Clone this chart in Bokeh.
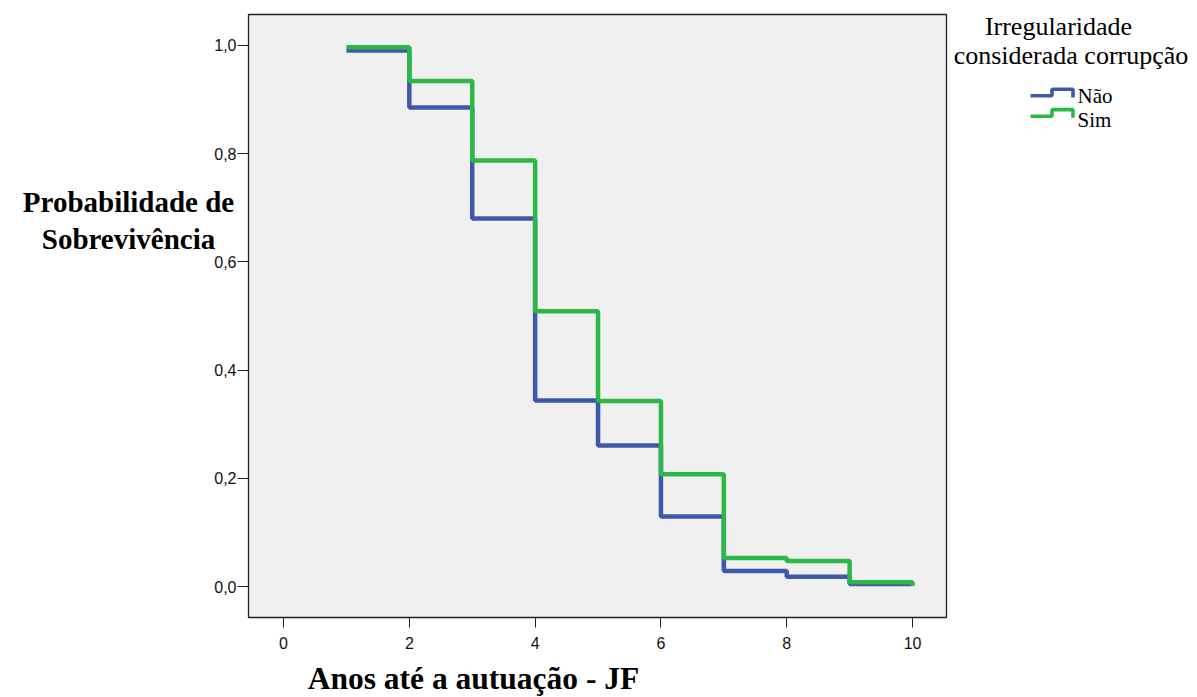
from bokeh.plotting import figure
from bokeh.models import Range1d, FixedTicker, Label, CustomJSTickFormatter
from bokeh.layouts import row
from bokeh.embed import file_html
from bokeh.resources import INLINE

# ---------------- data ----------------
years = [1, 2, 3, 4, 5, 6, 7, 8, 9, 10]
nao = [0.990, 0.885, 0.680, 0.344, 0.261, 0.130, 0.029, 0.0185, 0.005, 0.003]
sim = [0.996, 0.934, 0.787, 0.509, 0.343, 0.208, 0.053, 0.0475, 0.0083, 0.002]
x_ticks = [0, 2, 4, 6, 8, 10]
y_ticks = [0.0, 0.2, 0.4, 0.6, 0.8, 1.0]
series_names = ["Não", "Sim"]
series_colors = ["#3e58ab", "#2db746"]
legend_title = ["Irregularidade", "considerada corrupção"]
x_title = "Anos até a autuação - JF"
y_title = "Probabilidade de\nSobrevivência"

# ---------------- layout constants ----------------
H = 697
FRAME_L, FRAME_T, FRAME_W, FRAME_H = 248, 14, 698, 603
X0, X1 = -0.557, 10.54
Y0, Y1 = -0.0567, 1.0567


def xd(px):
    return X0 + (px - FRAME_L) / FRAME_W * (X1 - X0)


def yd(py):
    return Y1 - (py - FRAME_T) / FRAME_H * (Y1 - Y0)


p = figure(width=FRAME_L + FRAME_W + 2, height=H,
           x_range=Range1d(X0, X1), y_range=Range1d(Y0, Y1),
           output_backend="svg", toolbar_location=None,
           min_border_left=FRAME_L, min_border_right=2, min_border_top=FRAME_T,
           min_border_bottom=H - FRAME_T - FRAME_H)
p.background_fill_color = "#f0f0f0"
p.border_fill_color = "white"
p.outline_line_color = "#222222"
p.outline_line_width = 1.3
p.xgrid.visible = False
p.ygrid.visible = False

p.xaxis.ticker = FixedTicker(ticks=x_ticks)
p.yaxis.ticker = FixedTicker(ticks=y_ticks)
p.yaxis.formatter = CustomJSTickFormatter(code="return tick.toFixed(1).replace('.', ',');")
for ax in (p.xaxis, p.yaxis):
    ax.axis_line_color = "#222222"
    ax.axis_line_width = 1
    ax.major_tick_line_color = "#222222"
    ax.major_tick_line_width = 1
    ax.minor_tick_line_color = None
    ax.major_tick_in = 0
    ax.major_label_text_font = "Liberation Sans"
    ax.major_label_text_font_size = "16px"
    ax.major_label_text_color = "#111111"
p.xaxis.major_tick_out = 10
p.xaxis.major_label_standoff = 9
p.yaxis.major_tick_out = 11
p.yaxis.major_label_standoff = 1

for vals, col in zip([nao, sim], series_colors):
    p.step(years, vals, mode="after", line_width=4.5, line_color=col)

# axis titles: placed in side panels so they are not clipped to the frame
p.add_layout(Label(x=xd(128), y=yd(220), text=y_title,
                   text_align="center", text_baseline="middle",
                   text_font="Liberation Serif", text_font_style="bold",
                   text_font_size="29px", text_line_height=1.16,
                   text_color="black"), "left")
p.add_layout(Label(x=xd(473), y=yd(678.4), text=x_title,
                   text_align="center", text_baseline="middle",
                   text_font="Liberation Serif", text_font_style="bold",
                   text_font_size="31.5px", text_color="black"), "below")

# ---------------- legend panel (data units = page pixels) ----------------
LW = 245
LX = FRAME_L + FRAME_W + 2
lf = figure(width=LW, height=H, x_range=Range1d(LX, LX + LW),
            y_range=Range1d(FRAME_T + FRAME_H, FRAME_T),
            output_backend="svg", toolbar_location=None,
            min_border_left=0, min_border_right=0, min_border_top=FRAME_T,
            min_border_bottom=H - FRAME_T - FRAME_H)
lf.axis.visible = False
lf.xgrid.visible = False
lf.ygrid.visible = False
lf.outline_line_color = None
lf.background_fill_color = "white"
lf.border_fill_color = "white"

for txt, cx, cy in zip(legend_title, [1058, 1070.5], [26.2, 54.5]):
    lf.add_layout(Label(x=cx, y=cy, text=txt, text_align="center",
                        text_baseline="middle", text_font="Liberation Serif",
                        text_font_size="26px", text_color="black"))

icon_dx = [0, 21.5, 21.5, 42.5, 42.5]
icon_dy = [0, 0, -6.6, -6.6, 1.6]
for i, (name, col) in enumerate(zip(series_names, series_colors)):
    base_y = 95.3 + 20.4 * i
    lf.line([1030 + d for d in icon_dx], [base_y + d for d in icon_dy],
            line_width=3.6, line_color=col)
    lf.add_layout(Label(x=1077, y=95.6 + 24 * i, text=name, text_align="left",
                        text_baseline="middle", text_font="Liberation Serif",
                        text_font_size="21px", text_color="black"))

layout = row(p, lf)
open("out.html", "w").write(file_html(layout, INLINE))
